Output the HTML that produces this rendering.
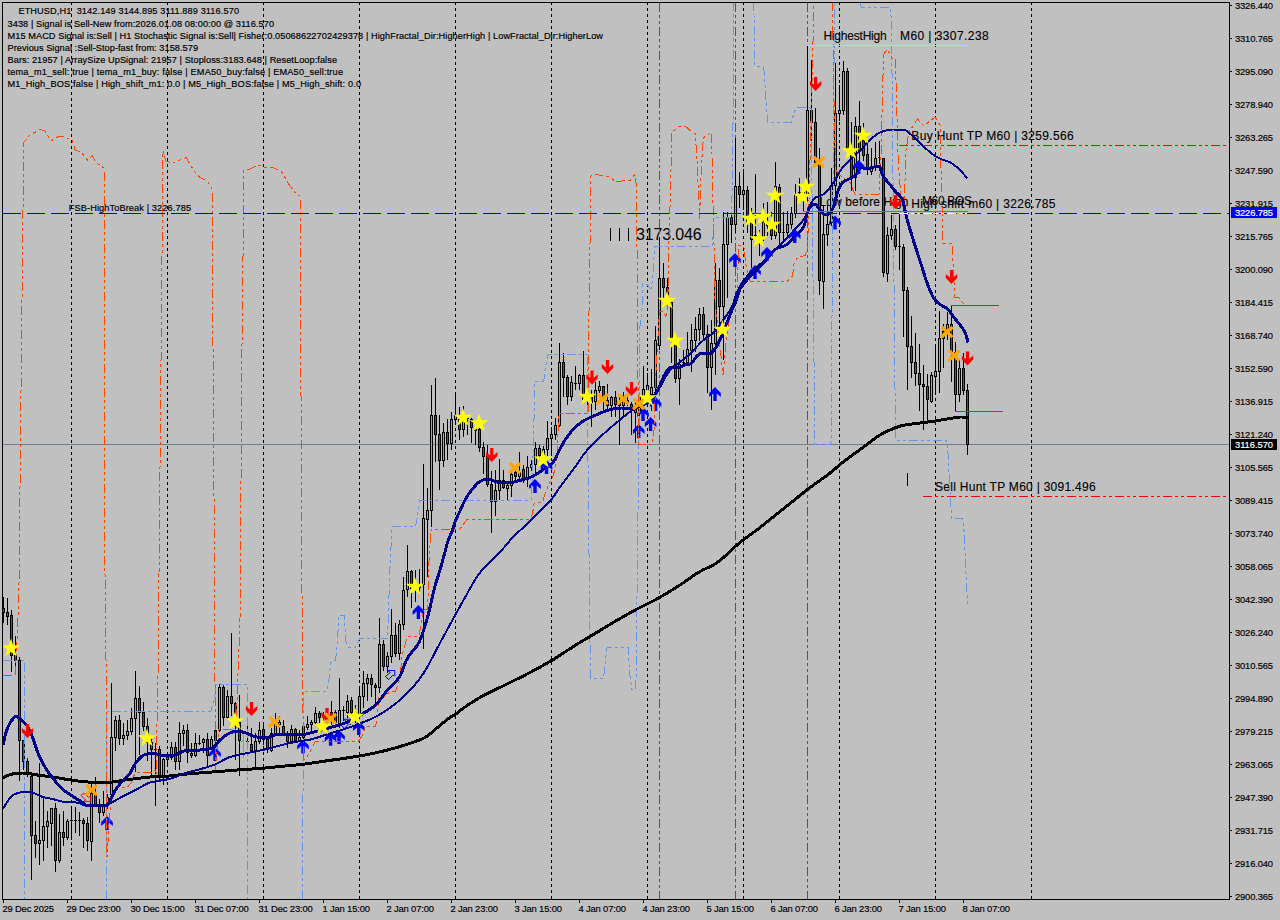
<!DOCTYPE html>
<html><head><meta charset="utf-8"><title>ETHUSD,H1</title>
<style>html,body{margin:0;padding:0;background:#c0c0c0;overflow:hidden}svg{display:block}text{font-family:"Liberation Sans",sans-serif;fill:#000}.s{font-size:9.2px;stroke:#000;stroke-width:.18px}.m{font-size:12px;stroke:#000;stroke-width:.12px}.ax{font-size:9.4px;stroke:#000;stroke-width:.18px}</style></head><body>
<svg width="1280" height="920" viewBox="0 0 1280 920">
<rect x="0" y="0" width="1280" height="920" fill="#c0c0c0"/>
<g class="s">
<text x="18.4" y="14.0" textLength="220.6" xml:space="preserve">ETHUSD,H1  3142.149 3144.895 3111.889 3116.570</text>
<text x="7.5" y="26.8" textLength="266.5" xml:space="preserve">3438 | Signal is Sell-New from:2026.01.08 08:00:00 @ 3116.570</text>
<text x="7.5" y="38.8" textLength="595.5" xml:space="preserve">M15 MACD Signal is:Sell | H1 Stochastic Signal is:Sell| Fisher:0.05068622702429378 | HighFractal_Dir:HigherHigh | LowFractal_Dir:HigherLow</text>
<text x="7.5" y="50.8" textLength="190.5" xml:space="preserve">Previous Signal :Sell-Stop-fast from: 3158.579</text>
<text x="7.5" y="62.7" textLength="329.5" xml:space="preserve">Bars: 21957 | ArraySize UpSignal: 21957 | Stoploss:3183.648 | ResetLoop:false</text>
<text x="7.5" y="74.7" textLength="335.5" xml:space="preserve">tema_m1_sell: true | tema_m1_buy: false | EMA50_buy:false | EMA50_sell:true</text>
<text x="7.5" y="86.7" textLength="353.5" xml:space="preserve">M1_High_BOS:false | High_shift_m1: 0.0 | M5_High_BOS:false | M5_High_shift: 0.0</text>
<text x="68.75" y="211" textLength="122.3">FSB-HighToBreak | 3226.785</text>
</g>
<g class="m">
<text x="823.4" y="39.6" textLength="63.3">HighestHigh</text><text x="900" y="39.6" textLength="88.7">M60 | 3307.238</text>
<text x="911.3" y="140" textLength="162.4">Buy Hunt TP M60 | 3259.566</text>
<text x="819.5" y="205.5" textLength="89">Low before High</text>
<text x="911.3" y="207.9" textLength="144.2">High shift m60 | 3226.785</text>
<text x="921.9" y="205.3" textLength="50">M60 BOS</text>
<text x="935" y="491" textLength="160.7">Sell Hunt TP M60 | 3091.496</text>
</g>
<g shape-rendering="crispEdges" stroke="#000" stroke-width="1"><path d="M610.5 228V241M619.5 228V241M628.5 228V241"/></g>
<text x="636" y="239.7" textLength="65.7" style="font-size:16px">3173.046</text>
<g shape-rendering="crispEdges" stroke="#000" stroke-width="1" stroke-dasharray="3 3" fill="none">
<line x1="71.5" y1="2" x2="71.5" y2="899"/>
<line x1="167.5" y1="2" x2="167.5" y2="899"/>
<line x1="263.5" y1="2" x2="263.5" y2="899"/>
<line x1="359.5" y1="2" x2="359.5" y2="899"/>
<line x1="455.5" y1="2" x2="455.5" y2="899"/>
<line x1="551.5" y1="2" x2="551.5" y2="899"/>
<line x1="647.5" y1="2" x2="647.5" y2="899"/>
<line x1="743.5" y1="2" x2="743.5" y2="899"/>
<line x1="839.5" y1="2" x2="839.5" y2="899"/>
<line x1="935.5" y1="2" x2="935.5" y2="899"/>
<line x1="1031.5" y1="2" x2="1031.5" y2="899"/>
</g>
<line x1="3" y1="444.5" x2="1229" y2="444.5" stroke="#708090" stroke-width="1" shape-rendering="crispEdges"/>
<g shape-rendering="crispEdges" stroke="#c71585" stroke-width="1" stroke-dasharray="9 3 3 3 3 3" fill="none">
<line x1="659.5" y1="3" x2="659.5" y2="899"/>
<line x1="735.5" y1="3" x2="735.5" y2="899"/>
<line x1="807.5" y1="3" x2="807.5" y2="899"/>
</g>
<g>
<polygon points="105.3,830 108.7,830 108.7,822.4 112.8,826 112.8,822 107,816 101.2,822 101.2,826 105.3,822.4" fill="#0000ff"/>
<polygon points="213.3,761 216.7,761 216.7,753.4 220.8,757 220.8,753 215,747 209.2,753 209.2,757 213.3,753.4" fill="#0000ff"/>
<polygon points="301.3,753.5 304.7,753.5 304.7,745.9 308.8,749.5 308.8,745.5 303,739.5 297.2,745.5 297.2,749.5 301.3,745.9" fill="#0000ff"/>
<polygon points="328.9,745.75 332.3,745.75 332.3,738.15 336.4,741.75 336.4,737.75 330.6,731.75 324.8,737.75 324.8,741.75 328.9,738.15" fill="#0000ff"/>
<polygon points="337.3,744 340.7,744 340.7,736.4 344.8,740 344.8,736 339,730 333.2,736 333.2,740 337.3,736.4" fill="#0000ff"/>
<polygon points="357.05,735 360.45,735 360.45,727.4 364.55,731 364.55,727 358.75,721 352.95,727 352.95,731 357.05,727.4" fill="#0000ff"/>
<polygon points="416.7,619 420.1,619 420.1,611.4 424.2,615 424.2,611 418.4,605 412.6,611 412.6,615 416.7,611.4" fill="#0000ff"/>
<polygon points="533.3,493 536.7,493 536.7,485.4 540.8,489 540.8,485 535,479 529.2,485 529.2,489 533.3,485.4" fill="#0000ff"/>
<polygon points="653.9,411 657.3,411 657.3,403.4 661.4,407 661.4,403 655.6,397 649.8,403 649.8,407 653.9,403.4" fill="#0000ff"/>
<polygon points="641.3,421 644.7,421 644.7,413.4 648.8,417 648.8,413 643,407 637.2,413 637.2,417 641.3,413.4" fill="#0000ff"/>
<polygon points="648.9,431 652.3,431 652.3,423.4 656.4,427 656.4,423 650.6,417 644.8,423 644.8,427 648.9,423.4" fill="#0000ff"/>
<polygon points="637.05,438 640.45,438 640.45,430.4 644.55,434 644.55,430 638.75,424 632.95,430 632.95,434 637.05,430.4" fill="#0000ff"/>
<polygon points="713.3,401 716.7,401 716.7,393.4 720.8,397 720.8,393 715,387 709.2,393 709.2,397 713.3,393.4" fill="#0000ff"/>
<polygon points="733.3,267 736.7,267 736.7,259.4 740.8,263 740.8,259 735,253 729.2,259 729.2,263 733.3,259.4" fill="#0000ff"/>
<polygon points="753.3,279 756.7,279 756.7,271.4 760.8,275 760.8,271 755,265 749.2,271 749.2,275 753.3,271.4" fill="#0000ff"/>
<polygon points="833.3,229.5 836.7,229.5 836.7,221.9 840.8,225.5 840.8,221.5 835,215.5 829.2,221.5 829.2,225.5 833.3,221.9" fill="#0000ff"/>
</g>
<g shape-rendering="crispEdges">
<path d="M3.5 597V623M7.5 598V625M11.5 610V672M15.5 636V668M19.5 657V781M23.5 740V770M27.5 758V777M31.5 773V880M35.5 821V858M39.5 763V865M43.5 797V861M47.5 811V848M51.5 808V846M55.5 803V872M59.5 814V863M63.5 811V846M67.5 819V840M71.5 806V840M75.5 807V833M79.5 812V836M83.5 818V848M87.5 817V851M91.5 782V861M95.5 777V807M99.5 799V823M103.5 791V816M107.5 794V809M111.5 683V797M115.5 716V751M119.5 715V745M123.5 723V745M127.5 720V740M131.5 708V735M135.5 671V772M139.5 686V755M143.5 702V731M147.5 718V761M151.5 738V776M155.5 743V806M159.5 746V781M163.5 758V785M167.5 753V764M171.5 742V760M175.5 742V770M179.5 722V770M183.5 725V746M187.5 724V763M191.5 743V758M195.5 733V757M199.5 735V745M203.5 738V753M207.5 733V768M211.5 736V750M215.5 729V743M219.5 684V732M223.5 685V726M227.5 690V719M231.5 633V716M235.5 702V760M239.5 695V776M247.5 721V749M251.5 728V752M255.5 733V768M259.5 722V744M263.5 722V745M267.5 737V753M271.5 728V752M275.5 713V735M279.5 716V733M283.5 720V735M287.5 731V748M291.5 725V743M295.5 728V742M299.5 730V742M303.5 723V739M307.5 716V730M311.5 720V731M315.5 707V724M319.5 711V723M323.5 712V727M327.5 708V725M331.5 701V725M335.5 710V727M339.5 678V728M343.5 706V721M347.5 695V718M351.5 697V716M355.5 705V723M359.5 689V717M363.5 671V708M367.5 674V701M371.5 674V697M375.5 683V705M379.5 618V693M383.5 640V671M387.5 652V673M391.5 609V663M395.5 623V657M399.5 620V660M403.5 577V630M407.5 545V597M411.5 570V608M415.5 570V602M419.5 569V593M423.5 464V649M427.5 488V577M431.5 385V527M435.5 378V462M439.5 415V490M443.5 423V467M447.5 419V460M451.5 412V450M455.5 392V425M459.5 407V440M463.5 406V437M467.5 418V435M471.5 418V443M475.5 427V445M479.5 428V452M483.5 442V474M487.5 445V487M491.5 471V533M495.5 470V516M499.5 459V500M503.5 470V489M507.5 484V500M511.5 470V497M515.5 470V481M519.5 452V479M523.5 465V483M527.5 456V487M531.5 460V471M535.5 442V473M539.5 445V461M543.5 446V463M547.5 421V456M551.5 427V456M555.5 418V440M559.5 343V427M563.5 353V397M567.5 375V405M571.5 376V401M575.5 366V390M579.5 374V390M583.5 351V401M587.5 393V410M591.5 390V427M595.5 382V410M599.5 381V393M603.5 386V410M607.5 384V410M611.5 396V417M615.5 391V417M619.5 395V445M623.5 392V416M627.5 396V406M631.5 402V435M635.5 400V443M639.5 393V417M643.5 366V411M647.5 373V401M651.5 369V411M655.5 326V397M659.5 237V350M663.5 263V298M667.5 278V306M671.5 302V363M675.5 335V383M679.5 359V405M683.5 350V366M687.5 332V365M691.5 324V372M695.5 317V352M699.5 308V341M703.5 307V340M707.5 325V393M711.5 320V410M715.5 263V375M719.5 268V326M723.5 212V360M727.5 212V298M731.5 212V243M735.5 138V233M739.5 172V208M743.5 169V210M747.5 186V233M751.5 208V268M755.5 174V237M759.5 230V256M763.5 203V241M767.5 202V236M771.5 212V240M775.5 162V239M779.5 184V244M783.5 212V243M787.5 211V236M791.5 207V229M795.5 184V218M799.5 178V201M803.5 190V212M807.5 45V201M811.5 60V141M815.5 108V167M819.5 148V295M823.5 205V309M827.5 205V246M831.5 168V226M835.5 63V195M839.5 85V121M843.5 61V115M847.5 68V153M851.5 122V191M855.5 117V191M859.5 101V161M863.5 123V161M867.5 144V175M871.5 148V175M875.5 142V171M879.5 141V164M883.5 158V277M887.5 227V282M891.5 215V240M895.5 225V250M899.5 214V270M903.5 244V337M907.5 287V390M911.5 316V378M915.5 333V386M919.5 344V411M923.5 365V430M927.5 374V422M931.5 372V403M935.5 344V395M939.5 311V393M943.5 324V368M947.5 312V340M951.5 305V382M955.5 342V412M959.5 360V402M963.5 353V395M967.5 384V455" stroke="#000" stroke-width="1" fill="none"/>
<path d="M2 608h3v5h-3zM6 612h3v5h-3zM10 615h3v41h-3zM14 655h3v6h-3zM18 660h3v81h-3zM22 740h3v22h-3zM26 761h3v12h-3zM30 776h3v60h-3zM34 835h3v9h-3zM38 840h3v4h-3zM42 826h3v15h-3zM46 821h3v6h-3zM50 808h3v16h-3zM54 808h3v53h-3zM58 832h3v29h-3zM62 832h3v6h-3zM66 821h3v17h-3zM82 820h3v4h-3zM86 823h3v18h-3zM90 793h3v49h-3zM94 794h3v11h-3zM98 804h3v9h-3zM102 806h3v7h-3zM106 797h3v9h-3zM110 737h3v58h-3zM114 720h3v18h-3zM118 720h3v19h-3zM122 735h3v4h-3zM126 731h3v5h-3zM130 718h3v14h-3zM134 698h3v21h-3zM138 698h3v15h-3zM142 712h3v15h-3zM146 726h3v17h-3zM150 742h3v8h-3zM158 749h3v27h-3zM162 759h3v17h-3zM166 757h3v3h-3zM170 747h3v11h-3zM174 747h3v15h-3zM178 733h3v29h-3zM182 730h3v4h-3zM186 730h3v23h-3zM190 753h3v3h-3zM194 743h3v13h-3zM202 739h3v4h-3zM206 739h3v17h-3zM210 739h3v10h-3zM214 730h3v11h-3zM218 687h3v44h-3zM222 687h3v31h-3zM226 696h3v22h-3zM230 696h3v8h-3zM234 703h3v20h-3zM238 722h3v19h-3zM250 744h3v7h-3zM254 741h3v10h-3zM258 730h3v12h-3zM262 729h3v11h-3zM266 739h3v11h-3zM270 733h3v18h-3zM274 724h3v10h-3zM278 722h3v3h-3zM282 726h3v8h-3zM286 733h3v9h-3zM290 729h3v13h-3zM294 729h3v12h-3zM298 737h3v4h-3zM302 726h3v12h-3zM306 724h3v4h-3zM310 722h3v3h-3zM314 713h3v10h-3zM318 713h3v5h-3zM322 716h3v3h-3zM326 714h3v5h-3zM330 712h3v7h-3zM334 712h3v11h-3zM338 710h3v15h-3zM346 701h3v12h-3zM350 700h3v13h-3zM354 712h3v4h-3zM358 696h3v20h-3zM362 683h3v14h-3zM366 678h3v6h-3zM370 678h3v7h-3zM374 685h3v3h-3zM378 644h3v44h-3zM382 644h3v23h-3zM386 656h3v11h-3zM390 635h3v22h-3zM394 635h3v19h-3zM398 624h3v30h-3zM402 590h3v35h-3zM406 571h3v19h-3zM410 571h3v18h-3zM418 584h3v4h-3zM422 518h3v67h-3zM426 510h3v10h-3zM430 415h3v96h-3zM434 415h3v20h-3zM438 434h3v27h-3zM442 432h3v29h-3zM446 432h3v12h-3zM450 419h3v25h-3zM454 415h3v5h-3zM458 419h3v11h-3zM462 421h3v9h-3zM470 419h3v9h-3zM474 428h3v3h-3zM478 429h3v19h-3zM482 447h3v10h-3zM486 456h3v29h-3zM490 484h3v18h-3zM494 490h3v12h-3zM498 480h3v11h-3zM502 480h3v8h-3zM506 485h3v4h-3zM510 474h3v12h-3zM514 472h3v5h-3zM518 472h3v5h-3zM522 469h3v11h-3zM526 467h3v12h-3zM530 464h3v4h-3zM534 448h3v17h-3zM538 448h3v8h-3zM542 449h3v7h-3zM546 438h3v12h-3zM550 434h3v5h-3zM554 425h3v10h-3zM558 362h3v64h-3zM562 362h3v16h-3zM566 377h3v20h-3zM570 382h3v15h-3zM578 375h3v9h-3zM582 375h3v25h-3zM586 394h3v5h-3zM590 397h3v6h-3zM594 390h3v12h-3zM598 386h3v5h-3zM602 386h3v14h-3zM606 400h3v6h-3zM610 397h3v9h-3zM614 397h3v8h-3zM618 401h3v5h-3zM622 399h3v7h-3zM626 400h3v3h-3zM630 404h3v4h-3zM634 408h3v5h-3zM638 396h3v15h-3zM642 389h3v8h-3zM646 385h3v5h-3zM650 387h3v8h-3zM654 340h3v48h-3zM658 278h3v68h-3zM662 278h3v10h-3zM666 287h3v16h-3zM670 302h3v36h-3zM674 337h3v42h-3zM678 364h3v15h-3zM686 349h3v14h-3zM690 340h3v11h-3zM694 329h3v12h-3zM698 314h3v16h-3zM702 314h3v21h-3zM706 334h3v34h-3zM710 343h3v25h-3zM714 280h3v64h-3zM718 280h3v27h-3zM722 244h3v63h-3zM726 217h3v28h-3zM730 217h3v8h-3zM734 186h3v39h-3zM738 186h3v9h-3zM742 190h3v5h-3zM746 190h3v33h-3zM750 222h3v18h-3zM758 236h3v5h-3zM762 222h3v15h-3zM766 222h3v4h-3zM770 225h3v11h-3zM774 186h3v50h-3zM778 187h3v46h-3zM786 224h3v9h-3zM790 213h3v12h-3zM794 194h3v20h-3zM802 192h3v4h-3zM806 110h3v86h-3zM810 110h3v13h-3zM814 122h3v41h-3zM818 162h3v119h-3zM822 234h3v48h-3zM826 224h3v11h-3zM830 185h3v38h-3zM834 113h3v73h-3zM838 110h3v4h-3zM842 71h3v40h-3zM846 71h3v80h-3zM850 150h3v28h-3zM854 126h3v52h-3zM858 126h3v25h-3zM862 140h3v16h-3zM866 154h3v15h-3zM870 168h3v4h-3zM874 158h3v9h-3zM882 158h3v115h-3zM886 235h3v39h-3zM890 229h3v7h-3zM894 229h3v18h-3zM902 247h3v44h-3zM906 290h3v57h-3zM910 346h3v17h-3zM914 362h3v12h-3zM918 373h3v12h-3zM922 384h3v3h-3zM926 386h3v14h-3zM930 375h3v27h-3zM934 371h3v6h-3zM938 338h3v34h-3zM942 331h3v8h-3zM946 324h3v8h-3zM950 324h3v29h-3zM954 352h3v43h-3zM958 368h3v27h-3zM962 368h3v23h-3zM966 390h3v55h-3z" fill="#000"/>
<path d="M70 820.5H73M74 820.5H77M78 820.5H81M154 749.5H157M198 743.5H201M246 741.5H249M342 710.5H345M414 586.5H417M466 418.5H469M574 383.5H577M682 362.5H685M754 235.5H757M782 232.5H785M798 192.5H801M878 157.5H881M898 246.5H901" stroke="#000" stroke-width="1" fill="none"/>
<path d="M39 841h1v2h-1zM43 827h1v13h-1zM47 822h1v4h-1zM51 809h1v14h-1zM59 833h1v27h-1zM67 822h1v15h-1zM91 794h1v47h-1zM103 807h1v5h-1zM107 798h1v7h-1zM111 738h1v56h-1zM115 721h1v16h-1zM123 736h1v2h-1zM127 732h1v3h-1zM131 719h1v12h-1zM135 699h1v19h-1zM163 760h1v15h-1zM167 758h1v1h-1zM171 748h1v9h-1zM179 734h1v27h-1zM183 731h1v2h-1zM195 744h1v11h-1zM203 740h1v2h-1zM211 740h1v8h-1zM219 688h1v42h-1zM227 697h1v20h-1zM255 742h1v8h-1zM259 731h1v10h-1zM271 734h1v16h-1zM275 725h1v8h-1zM279 723h1v1h-1zM291 730h1v11h-1zM299 738h1v2h-1zM303 727h1v10h-1zM307 725h1v2h-1zM311 723h1v1h-1zM315 714h1v8h-1zM323 717h1v1h-1zM331 713h1v5h-1zM339 711h1v13h-1zM347 702h1v10h-1zM359 697h1v18h-1zM363 684h1v12h-1zM367 679h1v4h-1zM379 645h1v42h-1zM387 657h1v9h-1zM391 636h1v20h-1zM399 625h1v28h-1zM403 591h1v33h-1zM407 572h1v17h-1zM419 585h1v2h-1zM423 519h1v65h-1zM427 511h1v8h-1zM431 416h1v94h-1zM443 433h1v27h-1zM451 420h1v23h-1zM455 416h1v3h-1zM463 422h1v7h-1zM495 491h1v10h-1zM499 481h1v9h-1zM507 486h1v2h-1zM511 475h1v10h-1zM519 473h1v3h-1zM527 468h1v10h-1zM531 465h1v2h-1zM535 449h1v15h-1zM543 450h1v5h-1zM547 439h1v10h-1zM551 435h1v3h-1zM555 426h1v8h-1zM559 363h1v62h-1zM571 383h1v13h-1zM579 376h1v7h-1zM587 395h1v3h-1zM595 391h1v10h-1zM599 387h1v3h-1zM611 398h1v7h-1zM623 400h1v5h-1zM627 401h1v1h-1zM639 397h1v13h-1zM643 390h1v6h-1zM647 386h1v3h-1zM651 388h1v6h-1zM655 341h1v46h-1zM659 279h1v66h-1zM679 365h1v13h-1zM687 350h1v12h-1zM691 341h1v9h-1zM695 330h1v10h-1zM699 315h1v14h-1zM711 344h1v23h-1zM715 281h1v62h-1zM723 245h1v61h-1zM727 218h1v26h-1zM735 187h1v37h-1zM743 191h1v3h-1zM763 223h1v13h-1zM775 187h1v48h-1zM787 225h1v7h-1zM791 214h1v10h-1zM795 195h1v18h-1zM803 193h1v2h-1zM807 111h1v84h-1zM823 235h1v46h-1zM827 225h1v9h-1zM831 186h1v36h-1zM835 114h1v71h-1zM839 111h1v2h-1zM843 72h1v38h-1zM855 127h1v50h-1zM871 169h1v2h-1zM875 159h1v7h-1zM887 236h1v37h-1zM891 230h1v5h-1zM931 376h1v25h-1zM935 372h1v4h-1zM939 339h1v32h-1zM947 325h1v6h-1zM959 369h1v25h-1z" fill="#00ff7f"/>
<path d="M3 609h1v3h-1zM7 613h1v3h-1zM11 616h1v39h-1zM15 656h1v4h-1zM19 661h1v79h-1zM23 741h1v20h-1zM27 762h1v10h-1zM31 777h1v58h-1zM35 836h1v7h-1zM55 809h1v51h-1zM63 833h1v4h-1zM83 821h1v2h-1zM87 824h1v16h-1zM95 795h1v9h-1zM99 805h1v7h-1zM119 721h1v17h-1zM139 699h1v13h-1zM143 713h1v13h-1zM147 727h1v15h-1zM151 743h1v6h-1zM159 750h1v25h-1zM175 748h1v13h-1zM187 731h1v21h-1zM191 754h1v1h-1zM207 740h1v15h-1zM215 731h1v9h-1zM223 688h1v29h-1zM231 697h1v6h-1zM235 704h1v18h-1zM239 723h1v17h-1zM251 745h1v5h-1zM263 730h1v9h-1zM267 740h1v9h-1zM283 727h1v6h-1zM287 734h1v7h-1zM295 730h1v10h-1zM319 714h1v3h-1zM327 715h1v3h-1zM335 713h1v9h-1zM351 701h1v11h-1zM355 713h1v2h-1zM371 679h1v5h-1zM375 686h1v1h-1zM383 645h1v21h-1zM395 636h1v17h-1zM411 572h1v16h-1zM435 416h1v18h-1zM439 435h1v25h-1zM447 433h1v10h-1zM459 420h1v9h-1zM471 420h1v7h-1zM475 429h1v1h-1zM479 430h1v17h-1zM483 448h1v8h-1zM487 457h1v27h-1zM491 485h1v16h-1zM503 481h1v6h-1zM515 473h1v3h-1zM523 470h1v9h-1zM539 449h1v6h-1zM563 363h1v14h-1zM567 378h1v18h-1zM583 376h1v23h-1zM591 398h1v4h-1zM603 387h1v12h-1zM607 401h1v4h-1zM615 398h1v6h-1zM619 402h1v3h-1zM631 405h1v2h-1zM635 409h1v3h-1zM663 279h1v8h-1zM667 288h1v14h-1zM671 303h1v34h-1zM675 338h1v40h-1zM703 315h1v19h-1zM707 335h1v32h-1zM719 281h1v25h-1zM731 218h1v6h-1zM739 187h1v7h-1zM747 191h1v31h-1zM751 223h1v16h-1zM759 237h1v3h-1zM767 223h1v2h-1zM771 226h1v9h-1zM779 188h1v44h-1zM811 111h1v11h-1zM815 123h1v39h-1zM819 163h1v117h-1zM847 72h1v78h-1zM851 151h1v26h-1zM859 127h1v23h-1zM863 141h1v14h-1zM867 155h1v13h-1zM883 159h1v113h-1zM895 230h1v16h-1zM903 248h1v42h-1zM907 291h1v55h-1zM911 347h1v15h-1zM915 363h1v10h-1zM919 374h1v10h-1zM923 385h1v1h-1zM927 387h1v12h-1zM943 332h1v6h-1zM951 325h1v27h-1zM955 353h1v41h-1zM963 369h1v21h-1zM967 391h1v53h-1z" fill="#dc143c"/>
<path d="M243.5 734V758" stroke="#00ff00" stroke-width="1" fill="none"/>
<path d="M241 741.5H244" stroke="#00ff00" stroke-width="1" fill="none"/>
</g>
<g shape-rendering="crispEdges" fill="none" stroke="#6495ed" stroke-width="1" stroke-dasharray="9 3 3 3 3 3">
<polyline points="3,660 24,660 24,899"/>
<polyline points="106.5,899 107,712 211,711.5 215,695 215,684.4 247.5,684.4 247.5,899"/>
<polyline points="302.5,899 303.5,691 327,691 329,679 330.6,663 335.6,660 337.5,640 339,615 344,615 346,642 349,647.5 355,647.5 359,640 360,638.5 387.5,638.5 390,567 392,527 415.6,526.5 417,519 419.4,500.5 531,500.5 532.5,476 535,381 543.75,381 545,370 547.5,356 549,354 587.5,354 587.5,420 590.4,678 603.5,678 607,648 628,647 629.5,673 632,689.5 635.6,689.5 636,680 638.75,450 640,326 642.5,305 643,284 647.5,285 651,289 652.5,280 653.75,261 655,246 712.5,246 713.75,217.5 731,217.5 732.5,186 734,2"/>
<polyline points="753.75,2 755,66 763.75,67.5 767.5,122.5 791,122.5 796,107.5 810,107.5 811,110 815,444 831,444 834.5,2"/>
<polyline points="860,2 861,7 890,7.5 891.5,20 895.5,440 946,440 947.5,445 951,510 951,518 962.5,518 963.75,525 967.5,605"/>
</g>
<g shape-rendering="crispEdges" fill="none" stroke="#ff4500" stroke-width="1" stroke-dasharray="9 3 3 3 3 3">
<polyline points="3,675 12,675"/>
<polyline points="15.5,675 16,655 17.5,632 19,585 21.5,345 23.75,142.5 30,135 40,129.5 45,131 51,141 59,136 65,137 72.5,141 75,150 81,152 87.5,160 92.5,156 96,162.5 104,168 105,575 106.5,700 107,857 108.5,835 109.5,815 111,805 115,787.5 127,787.5 131,783 135,773 153,772.5 155,770 156,775 158,675 159,575 163,151 166,161 172.5,163 186,157.5 194,171 200,177.5 207.5,181 212,189 214.5,575 215.4,771 219,729 236,729 240,620 242,345 244,170 250,169 257.5,165 264,167 272.5,167 282.5,172.5 287.5,182.5 295,192.5 300,196 302.5,691 304,760 309,754 315.6,741 358.75,741 362,736 366,726.5 375.6,726.5 377.5,715 379,697 386,696 390,691 395.6,691 400,679 402,656 405.6,642.5 407.5,637 418.75,636 422.5,617.5 423.75,610 427.5,609.4 428,597.5 429,561 431,531 431,529 460,529 467.5,519 530.6,519 532.5,514 534,504 542.5,502 545.6,492.5 548.75,484 552,479 555.6,467.5 557,454 558.75,415 560,413.5 588.5,413.5 588.5,345 591,176 595,174 602.5,176 610,177 616,182 622.5,181 630,180.5 634.5,175 636.5,185 638.5,444 652.5,444 653,437.5 654,430 656,371 659.5,311 664,312 666,318 668,305 668.75,242 669.4,230 672,132.5 678.75,126.5 685.6,126.5 692,132 695.6,133.75 696,145 697.5,165 698,185 699.4,207.5 699.75,219 700,207.5 701,175 702.5,147.5 703.75,137.5 711,132.5 712,154 713,202.5 713.75,230 715,300 723,375 726,342 730,316 736,300 737,289 739,245 743.75,246 746,265 749,277.5 750,281 787.5,281 792.5,276 794,264 797.5,257.5 805,255.6 807.5,250 809,200 814,2"/>
<polyline points="832.5,2 833.5,77 835.5,170 840,175 842.5,177.5 850,182.5 855,194 879,194 881,155 883.5,55 887,49 892,58 895,58.75 895.6,65 898,155 901,200 904,210 906,150 908.75,132.5 917.5,119 923.75,126 928,122.5 935,117 940,125 940.6,153 943,243 952,243 952.5,253 955,297.5 958.75,298 963.75,304 966,304"/>
</g>
<g fill="none" stroke-width="1">
<polygon points="387.5,670.5 394.8,670.5 394.8,675.8 392.6,675.3 388.7,679.6 385.4,676.6 390.3,672.4" stroke="#0000ff"/>
<polygon points="343.35,719.25 350.65,719.25 350.65,724.55 348.45,724.05 344.55,728.35 341.25,725.35 346.15,721.15" stroke="#0000ff"/>
<polygon points="83.9,801.4 90.8,801.4 90.8,796 88.3,797.3 83.8,793.1 81,795.4 85.7,800.1" stroke="#ff0000"/>
</g>
<g shape-rendering="crispEdges" fill="none" stroke-linejoin="round" stroke-linecap="butt">
<polyline points="2.5,778 3.5,777.46 4.5,776.93 5.5,776.43 6.5,775.95 7.5,775.51 8.5,775.11 9.5,774.75 10.5,774.44 11.5,774.19 12.5,774 13.5,773.84 14.5,773.69 15.5,773.55 16.5,773.42 17.5,773.3 18.5,773.2 19.5,773.12 20.5,773.05 21.5,773.01 22.5,773 23.5,773.02 24.5,773.07 25.5,773.14 26.5,773.25 27.5,773.37 28.5,773.51 29.5,773.67 30.5,773.83 31.5,774.01 32.5,774.19 33.5,774.36 34.5,774.54 35.5,774.7 36.5,774.86 37.5,775 38.5,775.13 39.5,775.26 40.5,775.39 41.5,775.52 42.5,775.65 43.5,775.78 44.5,775.91 45.5,776.04 46.5,776.17 47.5,776.31 48.5,776.44 49.5,776.58 50.5,776.71 51.5,776.86 52.5,777 53.5,777.15 54.5,777.3 55.5,777.46 56.5,777.62 57.5,777.79 58.5,777.96 59.5,778.13 60.5,778.3 61.5,778.47 62.5,778.65 63.5,778.82 64.5,778.99 65.5,779.15 66.5,779.32 67.5,779.48 68.5,779.63 69.5,779.79 70.5,779.93 71.5,780.07 72.5,780.21 73.5,780.35 74.5,780.5 75.5,780.64 76.5,780.78 77.5,780.93 78.5,781.06 79.5,781.2 80.5,781.33 81.5,781.45 82.5,781.56 83.5,781.67 84.5,781.77 85.5,781.86 86.5,781.93 87.5,782 88.5,782.06 89.5,782.12 90.5,782.17 91.5,782.23 92.5,782.28 93.5,782.33 94.5,782.37 95.5,782.41 96.5,782.45 97.5,782.47 98.5,782.49 99.5,782.5 100.5,782.5 101.5,782.49 102.5,782.47 103.5,782.45 104.5,782.42 105.5,782.38 106.5,782.34 107.5,782.29 108.5,782.24 109.5,782.18 110.5,782.12 111.5,782.06 112.5,782 113.5,781.92 114.5,781.81 115.5,781.67 116.5,781.52 117.5,781.35 118.5,781.16 119.5,780.97 120.5,780.78 121.5,780.59 122.5,780.4 123.5,780.23 124.5,780.07 125.5,779.93 126.5,779.8 127.5,779.67 128.5,779.55 129.5,779.43 130.5,779.31 131.5,779.19 132.5,779.08 133.5,778.97 134.5,778.85 135.5,778.74 136.5,778.62 137.5,778.5 138.5,778.38 139.5,778.25 140.5,778.11 141.5,777.98 142.5,777.84 143.5,777.7 144.5,777.57 145.5,777.45 146.5,777.33 147.5,777.22 148.5,777.12 149.5,777.04 150.5,776.97 151.5,776.9 152.5,776.85 153.5,776.8 154.5,776.75 155.5,776.71 156.5,776.66 157.5,776.62 158.5,776.57 159.5,776.53 160.5,776.47 161.5,776.42 162.5,776.37 163.5,776.32 164.5,776.27 165.5,776.22 166.5,776.16 167.5,776.1 168.5,776.03 169.5,775.96 170.5,775.88 171.5,775.8 172.5,775.7 173.5,775.6 174.5,775.49 175.5,775.38 176.5,775.26 177.5,775.14 178.5,775.02 179.5,774.9 180.5,774.78 181.5,774.66 182.5,774.54 183.5,774.42 184.5,774.31 185.5,774.2 186.5,774.1 187.5,774 188.5,773.91 189.5,773.82 190.5,773.73 191.5,773.64 192.5,773.56 193.5,773.48 194.5,773.39 195.5,773.31 196.5,773.23 197.5,773.15 198.5,773.08 199.5,773 200.5,772.92 201.5,772.85 202.5,772.77 203.5,772.69 204.5,772.62 205.5,772.54 206.5,772.47 207.5,772.39 208.5,772.31 209.5,772.24 210.5,772.16 211.5,772.08 212.5,772 213.5,771.92 214.5,771.84 215.5,771.76 216.5,771.68 217.5,771.6 218.5,771.52 219.5,771.43 220.5,771.35 221.5,771.27 222.5,771.19 223.5,771.11 224.5,771.03 225.5,770.95 226.5,770.87 227.5,770.78 228.5,770.7 229.5,770.62 230.5,770.54 231.5,770.47 232.5,770.39 233.5,770.31 234.5,770.23 235.5,770.15 236.5,770.08 237.5,770 238.5,769.92 239.5,769.85 240.5,769.78 241.5,769.71 242.5,769.64 243.5,769.57 244.5,769.5 245.5,769.43 246.5,769.36 247.5,769.29 248.5,769.22 249.5,769.15 250.5,769.09 251.5,769.02 252.5,768.95 253.5,768.88 254.5,768.81 255.5,768.74 256.5,768.66 257.5,768.59 258.5,768.51 259.5,768.44 260.5,768.36 261.5,768.28 262.5,768.2 263.5,768.12 264.5,768.03 265.5,767.94 266.5,767.85 267.5,767.76 268.5,767.67 269.5,767.58 270.5,767.48 271.5,767.39 272.5,767.29 273.5,767.19 274.5,767.09 275.5,766.99 276.5,766.89 277.5,766.79 278.5,766.69 279.5,766.59 280.5,766.49 281.5,766.39 282.5,766.29 283.5,766.19 284.5,766.09 285.5,765.99 286.5,765.9 287.5,765.8 288.5,765.71 289.5,765.61 290.5,765.52 291.5,765.43 292.5,765.34 293.5,765.25 294.5,765.15 295.5,765.06 296.5,764.96 297.5,764.86 298.5,764.76 299.5,764.66 300.5,764.54 301.5,764.43 302.5,764.31 303.5,764.19 304.5,764.06 305.5,763.94 306.5,763.81 307.5,763.67 308.5,763.54 309.5,763.4 310.5,763.26 311.5,763.12 312.5,762.98 313.5,762.83 314.5,762.69 315.5,762.54 316.5,762.39 317.5,762.24 318.5,762.09 319.5,761.94 320.5,761.79 321.5,761.64 322.5,761.48 323.5,761.33 324.5,761.18 325.5,761.03 326.5,760.88 327.5,760.73 328.5,760.58 329.5,760.43 330.5,760.29 331.5,760.14 332.5,760 333.5,759.86 334.5,759.72 335.5,759.58 336.5,759.44 337.5,759.3 338.5,759.16 339.5,759.03 340.5,758.89 341.5,758.75 342.5,758.61 343.5,758.47 344.5,758.32 345.5,758.18 346.5,758.03 347.5,757.88 348.5,757.73 349.5,757.58 350.5,757.42 351.5,757.26 352.5,757.1 353.5,756.94 354.5,756.78 355.5,756.62 356.5,756.45 357.5,756.28 358.5,756.11 359.5,755.94 360.5,755.77 361.5,755.59 362.5,755.41 363.5,755.23 364.5,755.05 365.5,754.87 366.5,754.68 367.5,754.49 368.5,754.29 369.5,754.1 370.5,753.9 371.5,753.7 372.5,753.49 373.5,753.28 374.5,753.07 375.5,752.85 376.5,752.63 377.5,752.4 378.5,752.18 379.5,751.95 380.5,751.71 381.5,751.48 382.5,751.24 383.5,750.99 384.5,750.75 385.5,750.5 386.5,750.25 387.5,750 388.5,749.74 389.5,749.48 390.5,749.22 391.5,748.95 392.5,748.67 393.5,748.39 394.5,748.11 395.5,747.82 396.5,747.53 397.5,747.24 398.5,746.95 399.5,746.65 400.5,746.35 401.5,746.05 402.5,745.75 403.5,745.44 404.5,745.14 405.5,744.82 406.5,744.51 407.5,744.19 408.5,743.86 409.5,743.53 410.5,743.2 411.5,742.85 412.5,742.5 413.5,742.15 414.5,741.8 415.5,741.45 416.5,741.1 417.5,740.74 418.5,740.37 419.5,739.99 420.5,739.59 421.5,739.17 422.5,738.73 423.5,738.26 424.5,737.76 425.5,737.22 426.5,736.61 427.5,735.93 428.5,735.18 429.5,734.39 430.5,733.56 431.5,732.7 432.5,731.82 433.5,730.93 434.5,730.05 435.5,729.17 436.5,728.32 437.5,727.5 438.5,726.69 439.5,725.87 440.5,725.03 441.5,724.19 442.5,723.35 443.5,722.51 444.5,721.68 445.5,720.86 446.5,720.07 447.5,719.3 448.5,718.55 449.5,717.84 450.5,717.17 451.5,716.57 452.5,716 453.5,715.43 454.5,714.82 455.5,714.16 456.5,713.43 457.5,712.66 458.5,711.86 459.5,711.06 460.5,710.26 461.5,709.48 462.5,708.75 463.5,708.05 464.5,707.35 465.5,706.66 466.5,705.97 467.5,705.29 468.5,704.62 469.5,703.96 470.5,703.3 471.5,702.66 472.5,702.02 473.5,701.38 474.5,700.76 475.5,700.15 476.5,699.54 477.5,698.95 478.5,698.36 479.5,697.78 480.5,697.22 481.5,696.66 482.5,696.12 483.5,695.58 484.5,695.05 485.5,694.53 486.5,694.01 487.5,693.5 488.5,693 489.5,692.51 490.5,692.01 491.5,691.53 492.5,691.04 493.5,690.56 494.5,690.08 495.5,689.6 496.5,689.12 497.5,688.64 498.5,688.17 499.5,687.69 500.5,687.21 501.5,686.72 502.5,686.24 503.5,685.74 504.5,685.25 505.5,684.75 506.5,684.25 507.5,683.76 508.5,683.26 509.5,682.77 510.5,682.28 511.5,681.78 512.5,681.29 513.5,680.8 514.5,680.31 515.5,679.82 516.5,679.33 517.5,678.83 518.5,678.34 519.5,677.84 520.5,677.35 521.5,676.85 522.5,676.35 523.5,675.85 524.5,675.34 525.5,674.83 526.5,674.32 527.5,673.8 528.5,673.29 529.5,672.76 530.5,672.24 531.5,671.71 532.5,671.18 533.5,670.65 534.5,670.11 535.5,669.58 536.5,669.04 537.5,668.5 538.5,667.95 539.5,667.41 540.5,666.86 541.5,666.31 542.5,665.75 543.5,665.2 544.5,664.63 545.5,664.07 546.5,663.5 547.5,662.93 548.5,662.35 549.5,661.77 550.5,661.18 551.5,660.59 552.5,660 553.5,659.4 554.5,658.79 555.5,658.17 556.5,657.54 557.5,656.9 558.5,656.26 559.5,655.61 560.5,654.96 561.5,654.3 562.5,653.64 563.5,652.98 564.5,652.32 565.5,651.66 566.5,650.99 567.5,650.33 568.5,649.67 569.5,649.02 570.5,648.37 571.5,647.72 572.5,647.08 573.5,646.44 574.5,645.81 575.5,645.19 576.5,644.57 577.5,643.96 578.5,643.35 579.5,642.75 580.5,642.15 581.5,641.55 582.5,640.95 583.5,640.35 584.5,639.76 585.5,639.17 586.5,638.57 587.5,637.98 588.5,637.39 589.5,636.79 590.5,636.2 591.5,635.6 592.5,635 593.5,634.4 594.5,633.8 595.5,633.19 596.5,632.59 597.5,631.98 598.5,631.38 599.5,630.77 600.5,630.17 601.5,629.56 602.5,628.95 603.5,628.35 604.5,627.74 605.5,627.13 606.5,626.53 607.5,625.93 608.5,625.33 609.5,624.73 610.5,624.13 611.5,623.53 612.5,622.94 613.5,622.34 614.5,621.75 615.5,621.17 616.5,620.58 617.5,620 618.5,619.42 619.5,618.84 620.5,618.26 621.5,617.68 622.5,617.11 623.5,616.53 624.5,615.96 625.5,615.38 626.5,614.81 627.5,614.25 628.5,613.68 629.5,613.12 630.5,612.56 631.5,612 632.5,611.45 633.5,610.9 634.5,610.36 635.5,609.82 636.5,609.28 637.5,608.75 638.5,608.23 639.5,607.71 640.5,607.21 641.5,606.71 642.5,606.22 643.5,605.73 644.5,605.25 645.5,604.77 646.5,604.28 647.5,603.8 648.5,603.32 649.5,602.83 650.5,602.33 651.5,601.83 652.5,601.32 653.5,600.8 654.5,600.27 655.5,599.73 656.5,599.18 657.5,598.62 658.5,598.06 659.5,597.5 660.5,596.93 661.5,596.35 662.5,595.77 663.5,595.18 664.5,594.59 665.5,594 666.5,593.4 667.5,592.79 668.5,592.19 669.5,591.58 670.5,590.96 671.5,590.35 672.5,589.73 673.5,589.1 674.5,588.48 675.5,587.85 676.5,587.22 677.5,586.59 678.5,585.95 679.5,585.32 680.5,584.68 681.5,584.03 682.5,583.36 683.5,582.68 684.5,581.98 685.5,581.28 686.5,580.58 687.5,579.87 688.5,579.15 689.5,578.44 690.5,577.73 691.5,577.02 692.5,576.32 693.5,575.63 694.5,574.95 695.5,574.28 696.5,573.63 697.5,573 698.5,572.38 699.5,571.79 700.5,571.22 701.5,570.68 702.5,570.17 703.5,569.68 704.5,569.21 705.5,568.75 706.5,568.29 707.5,567.84 708.5,567.39 709.5,566.92 710.5,566.45 711.5,565.95 712.5,565.43 713.5,564.88 714.5,564.3 715.5,563.69 716.5,563.02 717.5,562.32 718.5,561.59 719.5,560.82 720.5,560.02 721.5,559.19 722.5,558.34 723.5,557.47 724.5,556.58 725.5,555.67 726.5,554.75 727.5,553.81 728.5,552.88 729.5,551.93 730.5,550.99 731.5,550.05 732.5,549.11 733.5,548.18 734.5,547.25 735.5,546.35 736.5,545.45 737.5,544.58 738.5,543.73 739.5,542.9 740.5,542.1 741.5,541.31 742.5,540.54 743.5,539.77 744.5,539.01 745.5,538.26 746.5,537.52 747.5,536.78 748.5,536.04 749.5,535.31 750.5,534.58 751.5,533.85 752.5,533.12 753.5,532.38 754.5,531.65 755.5,530.91 756.5,530.16 757.5,529.41 758.5,528.65 759.5,527.89 760.5,527.11 761.5,526.33 762.5,525.54 763.5,524.74 764.5,523.94 765.5,523.14 766.5,522.34 767.5,521.53 768.5,520.72 769.5,519.91 770.5,519.11 771.5,518.3 772.5,517.5 773.5,516.7 774.5,515.9 775.5,515.1 776.5,514.3 777.5,513.5 778.5,512.7 779.5,511.9 780.5,511.1 781.5,510.3 782.5,509.5 783.5,508.7 784.5,507.9 785.5,507.1 786.5,506.3 787.5,505.5 788.5,504.7 789.5,503.9 790.5,503.1 791.5,502.3 792.5,501.49 793.5,500.68 794.5,499.87 795.5,499.06 796.5,498.25 797.5,497.44 798.5,496.63 799.5,495.82 800.5,495.02 801.5,494.21 802.5,493.41 803.5,492.62 804.5,491.83 805.5,491.05 806.5,490.27 807.5,489.5 808.5,488.74 809.5,487.99 810.5,487.24 811.5,486.51 812.5,485.78 813.5,485.06 814.5,484.34 815.5,483.62 816.5,482.91 817.5,482.2 818.5,481.49 819.5,480.78 820.5,480.06 821.5,479.35 822.5,478.63 823.5,477.9 824.5,477.17 825.5,476.43 826.5,475.69 827.5,474.93 828.5,474.17 829.5,473.39 830.5,472.6 831.5,471.79 832.5,470.96 833.5,470.12 834.5,469.26 835.5,468.4 836.5,467.53 837.5,466.67 838.5,465.81 839.5,464.96 840.5,464.12 841.5,463.3 842.5,462.5 843.5,461.72 844.5,460.94 845.5,460.18 846.5,459.42 847.5,458.67 848.5,457.92 849.5,457.18 850.5,456.45 851.5,455.72 852.5,455 853.5,454.28 854.5,453.56 855.5,452.84 856.5,452.12 857.5,451.41 858.5,450.69 859.5,449.98 860.5,449.26 861.5,448.54 862.5,447.82 863.5,447.09 864.5,446.37 865.5,445.63 866.5,444.88 867.5,444.12 868.5,443.34 869.5,442.56 870.5,441.78 871.5,441 872.5,440.23 873.5,439.46 874.5,438.71 875.5,437.98 876.5,437.27 877.5,436.58 878.5,435.92 879.5,435.3 880.5,434.71 881.5,434.14 882.5,433.59 883.5,433.06 884.5,432.54 885.5,432.05 886.5,431.56 887.5,431.1 888.5,430.65 889.5,430.21 890.5,429.79 891.5,429.37 892.5,428.94 893.5,428.52 894.5,428.11 895.5,427.71 896.5,427.32 897.5,426.96 898.5,426.61 899.5,426.29 900.5,425.99 901.5,425.73 902.5,425.5 903.5,425.3 904.5,425.11 905.5,424.93 906.5,424.77 907.5,424.61 908.5,424.46 909.5,424.32 910.5,424.19 911.5,424.06 912.5,423.94 913.5,423.81 914.5,423.69 915.5,423.57 916.5,423.45 917.5,423.33 918.5,423.2 919.5,423.07 920.5,422.93 921.5,422.8 922.5,422.66 923.5,422.53 924.5,422.4 925.5,422.28 926.5,422.15 927.5,422.02 928.5,421.89 929.5,421.76 930.5,421.63 931.5,421.49 932.5,421.36 933.5,421.22 934.5,421.07 935.5,420.93 936.5,420.77 937.5,420.61 938.5,420.45 939.5,420.28 940.5,420.11 941.5,419.94 942.5,419.77 943.5,419.59 944.5,419.42 945.5,419.25 946.5,419.08 947.5,418.91 948.5,418.74 949.5,418.58 950.5,418.42 951.5,418.24 952.5,418.04 953.5,417.84 954.5,417.65 955.5,417.46 956.5,417.3 957.5,417.16 958.5,417.06 959.5,417.01 960.5,417 961.5,417 962.5,417 963.5,417 964.5,417 965.5,417 966.5,417 967.5,417 968,417" stroke="#000" stroke-width="3"/>
<polyline points="3,809 4,807.2 5,805.48 6,803.83 7,802.28 8,800.82 9,799.46 10,798.23 11,797.12 12,796.14 13,795.31 14,794.63 15,794.12 16,793.74 17,793.38 18,793.06 19,792.77 20,792.53 21,792.35 22,792.23 23,792.2 24,792.2 25,792.2 26,792.2 27,792.2 28,792.2 29,792.2 30,792.2 31,792.22 32,792.36 33,792.63 34,792.99 35,793.43 36,793.92 37,794.44 38,794.97 39,795.48 40,795.96 41,796.37 42,796.7 43,796.97 44,797.22 45,797.45 46,797.67 47,797.87 48,798.07 49,798.27 50,798.47 51,798.67 52,798.88 53,799.11 54,799.35 55,799.62 56,799.92 57,800.22 58,800.53 59,800.83 60,801.11 61,801.36 62,801.57 63,801.73 64,801.84 65,801.91 66,801.98 67,802.03 68,802.07 69,802.11 70,802.15 71,802.18 72,802.22 73,802.27 74,802.32 75,802.39 76,802.47 77,802.6 78,802.84 79,803.18 80,803.57 81,804 82,804.43 83,804.83 84,805.18 85,805.44 86,805.58 87,805.6 88,805.6 89,805.6 90,805.6 91,805.6 92,805.6 93,805.6 94,805.6 95,805.6 96,805.6 97,805.6 98,805.6 99,805.6 100,805.6 101,805.6 102,805.6 103,805.6 104,805.6 105,805.6 106,805.46 107,805.09 108,804.57 109,803.97 110,803.37 111,802.85 112,802.34 113,801.8 114,801.25 115,800.69 116,800.12 117,799.54 118,798.96 119,798.39 120,797.83 121,797.28 122,796.75 123,796.24 124,795.74 125,795.24 126,794.76 127,794.27 128,793.79 129,793.3 130,792.8 131,792.3 132,791.8 133,791.29 134,790.78 135,790.28 136,789.77 137,789.26 138,788.74 139,788.19 140,787.61 141,787.02 142,786.42 143,785.82 144,785.23 145,784.67 146,784.13 147,783.64 148,783.19 149,782.81 150,782.5 151,782.24 152,782.01 153,781.8 154,781.61 155,781.44 156,781.27 157,781.11 158,780.95 159,780.78 160,780.6 161,780.42 162,780.25 163,780.09 164,779.93 165,779.77 166,779.6 167,779.41 168,779.22 169,779 170,778.76 171,778.49 172,778.19 173,777.87 174,777.53 175,777.17 176,776.8 177,776.42 178,776.03 179,775.63 180,775.24 181,774.84 182,774.45 183,774.07 184,773.69 185,773.33 186,772.98 187,772.66 188,772.35 189,772.05 190,771.77 191,771.49 192,771.22 193,770.96 194,770.7 195,770.45 196,770.2 197,769.94 198,769.69 199,769.44 200,769.18 201,768.92 202,768.65 203,768.38 204,768.1 205,767.8 206,767.5 207,767.19 208,766.87 209,766.55 210,766.21 211,765.87 212,765.52 213,765.16 214,764.79 215,764.4 216,764 217,763.57 218,763.09 219,762.58 220,762.04 221,761.49 222,760.92 223,760.35 224,759.79 225,759.24 226,758.71 227,758.22 228,757.76 229,757.35 230,757 231,756.69 232,756.4 233,756.13 234,755.87 235,755.63 236,755.4 237,755.17 238,754.96 239,754.75 240,754.53 241,754.32 242,754.11 243,753.89 244,753.68 245,753.47 246,753.27 247,753.07 248,752.87 249,752.68 250,752.49 251,752.3 252,752.11 253,751.92 254,751.73 255,751.54 256,751.35 257,751.16 258,750.96 259,750.75 260,750.55 261,750.33 262,750.11 263,749.89 264,749.65 265,749.41 266,749.15 267,748.9 268,748.64 269,748.37 270,748.11 271,747.84 272,747.58 273,747.31 274,747.05 275,746.8 276,746.55 277,746.29 278,746.03 279,745.78 280,745.52 281,745.27 282,745.01 283,744.76 284,744.52 285,744.28 286,744.04 287,743.81 288,743.59 289,743.37 290,743.16 291,742.94 292,742.74 293,742.53 294,742.33 295,742.13 296,741.94 297,741.75 298,741.56 299,741.38 300,741.2 301,741.03 302,740.87 303,740.72 304,740.58 305,740.44 306,740.29 307,740.14 308,739.97 309,739.8 310,739.6 311,739.38 312,739.14 313,738.87 314,738.59 315,738.29 316,737.98 317,737.66 318,737.33 319,736.99 320,736.65 321,736.31 322,735.97 323,735.64 324,735.32 325,735 326,734.69 327,734.39 328,734.08 329,733.78 330,733.48 331,733.18 332,732.89 333,732.59 334,732.29 335,731.99 336,731.69 337,731.39 338,731.09 339,730.78 340,730.48 341,730.17 342,729.85 343,729.54 344,729.22 345,728.9 346,728.57 347,728.23 348,727.89 349,727.55 350,727.2 351,726.85 352,726.49 353,726.13 354,725.77 355,725.41 356,725.05 357,724.68 358,724.31 359,723.93 360,723.55 361,723.16 362,722.77 363,722.38 364,721.97 365,721.56 366,721.14 367,720.72 368,720.29 369,719.85 370,719.4 371,718.94 372,718.47 373,717.99 374,717.5 375,717 376,716.49 377,715.96 378,715.41 379,714.85 380,714.27 381,713.68 382,713.07 383,712.45 384,711.82 385,711.17 386,710.51 387,709.83 388,709.14 389,708.44 390,707.73 391,707.01 392,706.27 393,705.52 394,704.77 395,704 396,703.22 397,702.42 398,701.59 399,700.75 400,699.89 401,699.01 402,698.11 403,697.19 404,696.25 405,695.29 406,694.32 407,693.32 408,692.3 409,691.27 410,690.22 411,689.14 412,688.05 413,686.94 414,685.8 415,684.63 416,683.42 417,682.19 418,680.91 419,679.61 420,678.27 421,676.89 422,675.47 423,674.02 424,672.53 425,671 426,669.4 427,667.69 428,665.91 429,664.06 430,662.16 431,660.23 432,658.28 433,656.33 434,654.4 435,652.5 436,650.61 437,648.7 438,646.79 439,644.89 440,643 441,641.13 442,639.27 443,637.41 444,635.56 445,633.71 446,631.87 447,630.04 448,628.21 449,626.38 450,624.55 451,622.73 452,620.91 453,619.09 454,617.27 455,615.45 456,613.64 457,611.82 458,610.01 459,608.2 460,606.4 461,604.61 462,602.82 463,601.04 464,599.26 465,597.5 466,595.73 467,593.93 468,592.13 469,590.31 470,588.51 471,586.72 472,584.94 473,583.21 474,581.51 475,579.86 476,578.26 477,576.74 478,575.28 479,573.89 480,572.57 481,571.3 482,570.09 483,568.93 484,567.81 485,566.73 486,565.68 487,564.66 488,563.67 489,562.69 490,561.73 491,560.78 492,559.84 493,558.9 494,557.95 495,557 496,556.04 497,555.06 498,554.07 499,553.05 500,552 501,550.92 502,549.81 503,548.67 504,547.51 505,546.33 506,545.15 507,543.96 508,542.78 509,541.6 510,540.44 511,539.29 512,538.17 513,537.08 514,536.02 515,535 516,534.03 517,533.09 518,532.19 519,531.3 520,530.43 521,529.57 522,528.7 523,527.83 524,526.93 525,526 526,525.05 527,524.09 528,523.12 529,522.14 530,521.16 531,520.16 532,519.16 533,518.16 534,517.15 535,516.13 536,515.11 537,514.09 538,513.07 539,512.05 540,511.02 541,510 542,508.99 543,508 544,507.01 545,506.03 546,505.05 547,504.05 548,503.04 549,501.99 550,500.91 551,499.78 552,498.61 553,497.37 554,496.01 555,494.56 556,493.04 557,491.5 558,489.96 559,488.45 560,487 561,485.61 562,484.24 563,482.89 564,481.56 565,480.24 566,478.93 567,477.63 568,476.33 569,475.02 570,473.72 571,472.4 572,471.08 573,469.74 574,468.38 575,467 576,465.58 577,464.11 578,462.61 579,461.09 580,459.59 581,458.1 582,456.67 583,455.29 584,454 585,452.77 586,451.58 587,450.43 588,449.3 589,448.2 590,447.13 591,446.07 592,445.04 593,444.01 594,443 595,442 596,441 597,440.01 598,439.03 599,438.07 600,437.12 601,436.19 602,435.26 603,434.34 604,433.44 605,432.54 606,431.64 607,430.76 608,429.88 609,429 610,428.13 611,427.27 612,426.41 613,425.57 614,424.73 615,423.9 616,423.07 617,422.25 618,421.43 619,420.62 620,419.81 621,419 622,418.18 623,417.35 624,416.5 625,415.65 626,414.81 627,413.98 628,413.18 629,412.4 630,411.65 631,410.95 632,410.3 633,409.71 634,409.18 635,408.69 636,408.24 637,407.82 638,407.42 639,407.03 640,406.65 641,406.26 642,405.86 643,405.43 644,404.98 645,404.48 646,403.93 647,403.33 648,402.65 649,401.86 650,400.97 651,399.99 652,398.92 653,397.77 654,396.57 655,395.31 656,394 657,392.56 658,390.94 659,389.17 660,387.29 661,385.36 662,383.42 663,381.52 664,379.7 665,378 666,376.36 667,374.69 668,373.07 669,371.54 670,370.17 671,369 672,368.01 673,367.13 674,366.32 675,365.58 676,364.87 677,364.18 678,363.49 679,362.77 680,362 681,361.2 682,360.41 683,359.61 684,358.82 685,358.01 686,357.19 687,356.36 688,355.51 689,354.64 690,353.75 691,352.82 692,351.83 693,350.82 694,349.77 695,348.7 696,347.63 697,346.55 698,345.48 699,344.42 700,343.4 701,342.4 702,341.46 703,340.56 704,339.72 705,338.93 706,338.18 707,337.44 708,336.72 709,336 710,335.27 711,334.51 712,333.72 713,332.88 714,331.97 715,331 716,329.94 717,328.78 718,327.55 719,326.24 720,324.88 721,323.46 722,322 723,320.52 724,319.01 725,317.5 726,316.04 727,314.65 728,313.26 729,311.82 730,310.28 731,308.56 732,306.62 733,304.39 734,301.67 735,297.5 736,294.77 737,292.3 738,290.05 739,288.01 740,286.15 741,284.45 742,282.87 743,281.4 744,280 745,278.69 746,277.49 747,276.37 748,275.33 749,274.33 750,273.37 751,272.43 752,271.48 753,270.52 754,269.59 755,268.68 756,267.8 757,266.94 758,266.09 759,265.24 760,264.4 761,263.55 762,262.69 763,261.82 764,260.92 765,260 766,259.05 767,258.09 768,257.11 769,256.12 770,255.11 771,254.1 772,253.09 773,252.07 774,251.05 775,250.03 776,249.01 777,248 778,247 779,246.02 780,245.04 781,244.07 782,243.11 783,242.14 784,241.17 785,240.19 786,239.19 787,238.18 788,237.15 789,236.09 790,235 791,233.86 792,232.66 793,231.43 794,230.2 795,229 796,227.87 797,226.82 798,225.82 799,224.83 800,223.83 801,222.78 802,221.66 803,220.42 804,219.05 805,217.5 806,215.44 807,212.78 808,209.9 809,207.19 810,205 811,203.24 812,201.58 813,200.11 814,198.9 815,198 816,197.37 817,196.86 818,196.45 819,196.1 820,195.77 821,195.43 822,195.04 823,194.58 824,194 825,193.25 826,192.33 827,191.27 828,190.08 829,188.8 830,187.45 831,186.07 832,184.69 833,183.29 834,181.75 835,180.08 836,178.31 837,176.5 838,174.68 839,172.89 840,171.18 841,169.58 842,168.15 843,166.89 844,165.76 845,164.7 846,163.71 847,162.76 848,161.84 849,160.91 850,159.98 851,159 852,157.98 853,156.95 854,155.92 855,154.93 856,154 857,153.17 858,152.4 859,151.66 860,150.87 861,150 862,148.98 863,147.82 864,146.58 865,145.33 866,144.12 867,143 868,142.02 869,141.05 870,140.1 871,139.16 872,138.24 873,137.34 874,136.49 875,135.67 876,134.91 877,134.2 878,133.56 879,132.99 880,132.5 881,132.07 882,131.68 883,131.32 884,131.01 885,130.73 886,130.5 887,130.28 888,130.07 889,129.87 890,129.7 891,129.58 892,129.51 893,129.5 894,129.5 895,129.5 896,129.5 897,129.5 898,129.5 899,129.5 900,129.5 901,129.5 902,129.5 903,129.5 904,129.55 905,129.9 906,130.51 907,131.3 908,132.15 909,132.99 910,133.76 911,134.57 912,135.43 913,136.34 914,137.28 915,138.25 916,139.22 917,140.21 918,141.19 919,142.15 920,143.09 921,144 922,144.9 923,145.82 924,146.74 925,147.68 926,148.61 927,149.53 928,150.44 929,151.33 930,152.2 931,153.03 932,153.83 933,154.58 934,155.28 935,155.92 936,156.52 937,157.09 938,157.62 939,158.13 940,158.61 941,159.06 942,159.5 943,159.9 944,160.26 945,160.59 946,160.9 947,161.22 948,161.56 949,161.93 950,162.36 951,162.86 952,163.44 953,164.11 954,164.84 955,165.63 956,166.47 957,167.34 958,168.23 959,169.15 960,170.12 961,171.14 962,172.22 963,173.34 964,174.52 965,175.74 966,177 967,178.3" stroke="#00008b" stroke-width="2"/>
<polyline points="3,745 4,740.5 5,736.37 6,732.7 7,729.58 8,727.05 9,724.87 10,722.96 11,721.34 12,720 13,718.77 14,717.62 15,716.78 16,716.5 17,716.77 18,717.34 19,718 20,718.75 21,719.69 22,720.7 23,721.7 24,722.61 25,723.52 26,724.55 27,725.81 28,727.43 29,729.35 30,731.48 31,733.75 32,736.07 33,738.65 34,741.49 35,744.47 36,747.46 37,750.32 38,752.92 39,755.25 40,757.47 41,759.6 42,761.62 43,763.53 44,765.34 45,767.04 46,768.65 47,770.18 48,771.66 49,773.08 50,774.45 51,775.79 52,777.09 53,778.39 54,779.67 55,780.95 56,782.22 57,783.45 58,784.64 59,785.77 60,786.83 61,787.8 62,788.69 63,789.54 64,790.34 65,791.1 66,791.83 67,792.54 68,793.23 69,793.91 70,794.59 71,795.26 72,795.94 73,796.6 74,797.25 75,797.88 76,798.51 77,799.12 78,799.74 79,800.34 80,800.95 81,801.56 82,802.19 83,802.94 84,803.73 85,804.47 86,805.09 87,805.49 88,805.6 89,805.6 90,805.6 91,805.6 92,805.6 93,805.6 94,805.6 95,805.6 96,805.6 97,805.6 98,805.6 99,805.6 100,805.6 101,805.6 102,805.6 103,805.6 104,805.6 105,805.6 106,805.53 107,804.85 108,803.61 109,802.04 110,800.34 111,798.7 112,796.74 113,794.56 114,792.49 115,790.79 116,789.25 117,787.79 118,786.42 119,785.11 120,783.87 121,782.67 122,781.51 123,780.44 124,779.48 125,778.6 126,777.73 127,776.85 128,775.88 129,774.79 130,773.52 131,771.82 132,769.78 133,767.63 134,765.62 135,764 136,762.67 137,761.37 138,760.13 139,758.96 140,757.89 141,756.94 142,756.13 143,755.48 144,755 145,754.63 146,754.28 147,753.95 148,753.66 149,753.42 150,753.22 151,753.08 152,753.01 153,753.02 154,753.15 155,753.38 156,753.68 157,754.03 158,754.38 159,754.71 160,755 161,755.3 162,755.56 163,755.6 164,755.59 165,755.57 166,755.55 167,755.52 168,755.48 169,755.43 170,755.37 171,755.31 172,755.24 173,755.17 174,755.09 175,755 176,754.8 177,754.43 178,753.92 179,753.34 180,752.72 181,752.13 182,751.62 183,751.22 184,751 185,750.89 186,750.8 187,750.72 188,750.65 189,750.59 190,750.54 191,750.49 192,750.45 193,750.41 194,750.37 195,750.32 196,750.27 197,750.22 198,750.16 199,750.08 200,750 201,749.91 202,749.81 203,749.71 204,749.61 205,749.49 206,749.36 207,749.21 208,749.04 209,748.86 210,748.65 211,748.41 212,748.14 213,747.8 214,747.09 215,746.07 216,744.85 217,743.52 218,742.21 219,741 220,740 221,739.15 222,738.3 223,737.47 224,736.67 225,735.91 226,735.19 227,734.53 228,733.94 229,733.43 230,733 231,732.62 232,732.24 233,731.89 234,731.57 235,731.31 236,731.12 237,731.01 238,731.01 239,731.11 240,731.29 241,731.54 242,731.82 243,732.13 244,732.45 245,732.75 246,733.07 247,733.46 248,733.89 249,734.34 250,734.8 251,735.25 252,735.67 253,736.05 254,736.37 255,736.6 256,736.78 257,736.96 258,737.11 259,737.25 260,737.37 261,737.45 262,737.5 263,737.53 264,737.56 265,737.58 266,737.59 267,737.6 268,737.55 269,737.24 270,736.75 271,736.22 272,735.8 273,735.47 274,735.12 275,734.78 276,734.47 277,734.23 278,734.06 279,734 280,734.02 281,734.06 282,734.12 283,734.19 284,734.27 285,734.35 286,734.42 287,734.48 288,734.52 289,734.55 290,734.59 291,734.62 292,734.65 293,734.68 294,734.71 295,734.74 296,734.76 297,734.78 298,734.79 299,734.8 300,734.8 301,734.77 302,734.68 303,734.54 304,734.37 305,734.17 306,733.94 307,733.7 308,733.46 309,733.22 310,733 311,732.78 312,732.55 313,732.32 314,732.07 315,731.81 316,731.55 317,731.28 318,731.01 319,730.73 320,730.44 321,730.16 322,729.87 323,729.58 324,729.29 325,729 326,728.71 327,728.43 328,728.15 329,727.87 330,727.58 331,727.3 332,727.02 333,726.74 334,726.46 335,726.17 336,725.88 337,725.58 338,725.28 339,724.97 340,724.66 341,724.34 342,724.01 343,723.67 344,723.32 345,722.96 346,722.6 347,722.22 348,721.82 349,721.42 350,721 351,720.55 352,720.07 353,719.55 354,718.99 355,718.42 356,717.82 357,717.21 358,716.58 359,715.95 360,715.32 361,714.68 362,714.06 363,713.45 364,712.85 365,712.26 366,711.68 367,711.1 368,710.51 369,709.9 370,709.27 371,708.62 372,707.93 373,707.2 374,706.43 375,705.6 376,704.68 377,703.64 378,702.5 379,701.27 380,699.98 381,698.65 382,697.28 383,695.9 384,694.52 385,693.17 386,691.86 387,690.6 388,689.42 389,688.33 390,687.3 391,686.32 392,685.37 393,684.41 394,683.44 395,682.43 396,681.35 397,680.19 398,678.93 399,677.54 400,676 401,674.03 402,671.52 403,668.72 404,665.87 405,663.21 406,661 407,659.17 408,657.48 409,655.91 410,654.44 411,653.03 412,651.67 413,650.36 414,649.2 415,648.13 416,647.01 417,645.73 418,644.17 419,642.23 420,640 421,637.57 422,634.92 423,632.09 424,629.09 425,625.93 426,622.64 427,619.24 428,615.69 429,611.73 430,607.44 431,602.97 432,598.46 433,594.03 434,589.83 435,586 436,582.57 437,579.4 438,576.34 439,573.26 440,570 441,566.55 442,563 443,559.38 444,555.7 445,552 446,548.06 447,544.18 448,541.03 449,538.43 450,536.1 451,533.82 452,531.36 453,528.47 454,525.09 455,522 456,519.5 457,517.27 458,515.18 459,513.13 460,511 461,508.73 462,506.4 463,504.1 464,501.93 465,500 466,498.26 467,496.62 468,495.06 469,493.58 470,492.18 471,490.86 472,489.6 473,488.4 474,487.2 475,486.01 476,484.88 477,483.82 478,482.89 479,482.1 480,481.5 481,481 482,480.52 483,480.08 484,479.69 485,479.37 486,479.14 487,479.02 488,479.02 489,479.15 490,479.4 491,479.73 492,480.11 493,480.52 494,480.93 495,481.32 496,481.66 497,481.91 498,482.07 499,482.22 500,482.37 501,482.5 502,482.63 503,482.74 504,482.84 505,482.91 506,482.97 507,483 508,482.99 509,482.93 510,482.81 511,482.65 512,482.45 513,482.22 514,481.96 515,481.69 516,481.41 517,481.13 518,480.86 519,480.6 520,480.35 521,480.1 522,479.85 523,479.59 524,479.32 525,479.03 526,478.74 527,478.43 528,478.1 529,477.76 530,477.39 531,477 532,476.57 533,476.1 534,475.58 535,475.02 536,474.43 537,473.81 538,473.16 539,472.49 540,471.81 541,471.11 542,470.41 543,469.7 544,469 545,468.32 546,467.67 547,467.02 548,466.35 549,465.66 550,464.91 551,464.09 552,463.18 553,462.16 554,461 555,459.38 556,457.25 557,455.02 558,453.02 559,451.05 560,449.06 561,447.09 562,445.16 563,443.32 564,441.59 565,440 566,438.51 567,437.07 568,435.67 569,434.33 570,433.04 571,431.81 572,430.64 573,429.53 574,428.48 575,427.5 576,426.57 577,425.69 578,424.84 579,424.03 580,423.27 581,422.54 582,421.85 583,421.21 584,420.6 585,420.03 586,419.49 587,418.97 588,418.48 589,418.01 590,417.55 591,417.11 592,416.68 593,416.26 594,415.84 595,415.42 596,415 597,414.57 598,414.14 599,413.7 600,413.26 601,412.82 602,412.4 603,411.98 604,411.59 605,411.21 606,410.86 607,410.54 608,410.25 609,410 610,409.77 611,409.53 612,409.3 613,409.07 614,408.85 615,408.65 616,408.47 617,408.31 618,408.18 619,408.08 620,408.02 621,408 622,408 623,408 624,408 625,408 626,408 627,408 628,408 629,408 630,408 631,408 632,408 633,407.99 634,407.92 635,407.78 636,407.58 637,407.32 638,407.02 639,406.67 640,406.28 641,405.87 642,405.42 643,404.96 644,404.48 645,404 646,403.44 647,402.76 648,401.96 649,401.07 650,400.1 651,399.07 652,398 653,396.84 654,395.54 655,394.13 656,392.6 657,390.98 658,389.28 659,387.5 660,385.46 661,383.07 662,380.55 663,378.06 664,375.82 665,374 666,372.41 667,370.82 668,369.35 669,368.13 670,367.31 671,367 672,367 673,367 674,367 675,367 676,367 677,367 678,367 679,367 680,367 681,366.85 682,366.47 683,365.94 684,365.35 685,364.78 686,364.31 687,364.04 688,364 689,364 690,364 691,363.67 692,362.8 693,361.54 694,360.07 695,358.55 696,357.14 697,356.01 698,355.25 699,354.53 700,353.87 701,353.34 702,353.04 703,353.02 704,353.15 705,353.35 706,353.59 707,353.81 708,353.96 709,353.99 710,353.69 711,353.05 712,352.16 713,351.09 714,349.93 715,348.75 716,347.41 717,345.76 718,343.87 719,341.81 720,339.67 721,337.5 722,335.22 723,332.75 724,330.17 725,327.56 726,325 727,322.48 728,319.95 729,317.43 730,314.93 731,312.5 732,310.19 733,307.98 734,305.78 735,303.49 736,301 737,298.01 738,294.64 739,291.45 740,289 741,287.26 742,285.77 743,284.47 744,283.29 745,282.15 746,281 747,279.83 748,278.71 749,277.61 750,276.54 751,275.5 752,274.48 753,273.47 754,272.47 755,271.48 756,270.5 757,269.51 758,268.51 759,267.5 760,266.5 761,265.51 762,264.51 763,263.47 764,262.34 765,261.13 766,259.88 767,258.6 768,257.31 769,256.03 770,254.78 771,253.57 772,252.44 773,251.4 774,250.46 775,249.66 776,249 777,248.47 778,248.03 779,247.65 780,247.32 781,247 782,246.69 783,246.35 784,245.97 785,245.53 786,245 787,244.34 788,243.53 789,242.6 790,241.58 791,240.48 792,239.35 793,238.21 794,237.08 795,236 796,235.01 797,234.11 798,233.26 799,232.38 800,231.45 801,230.39 802,229.17 803,227.72 804,226 805,222.89 806,218.39 807,214.08 808,211.24 809,209.03 810,207.5 811,206.43 812,205.48 813,204.71 814,204.19 815,204 816,204.47 817,205.64 818,207.18 819,208.74 820,210 821,211.06 822,212.18 823,213.24 824,214.14 825,214.77 826,215 827,214.81 828,214.28 829,213.45 830,212.38 831,211.12 832,209.73 833,208.05 834,205.13 835,201.38 836,197.43 837,193.9 838,191.25 839,188.78 840,186.49 841,184.52 842,183.02 843,182.09 844,181.4 845,180.85 846,180.38 847,179.95 848,179.51 849,179 850,178.48 851,177.99 852,177.51 853,177 854,176.43 855,175.78 856,175 857,173.68 858,171.75 859,169.73 860,168.14 861,167.5 862,167.6 863,167.84 864,168.16 865,168.51 866,168.8 867,168.97 868,168.96 869,168.68 870,168.26 871,167.82 872,167.5 873,167.28 874,167.05 875,166.84 876,166.65 877,166.5 878,166.38 879,166.31 880,166.73 881,170.27 882,173.98 883,175.87 884,177.46 885,178.83 886,180.04 887,181.17 888,182.27 889,183.41 890,184.66 891,185.95 892,187.23 893,188.5 894,189.76 895,191 896,192.13 897,193.12 898,194.05 899,195.02 900,196.12 901,197.43 902,199.05 903,201.33 904,205.47 905,210.46 906,215 907,218.78 908,222.39 909,225.87 910,229.25 911,232.57 912,235.86 913,239.13 914,242.35 915,245.52 916,248.64 917,251.72 918,254.79 919,257.85 920,260.92 921,264 922,267.16 923,270.41 924,273.65 925,276.84 926,279.87 927,282.69 928,285.27 929,287.81 930,290.3 931,292.69 932,294.92 933,296.91 934,298.63 935,300 936,301.09 937,302.03 938,302.85 939,303.6 940,304.3 941,305 942,305.65 943,306.23 944,306.76 945,307.31 946,307.91 947,308.6 948,309.45 949,310.55 950,311.84 951,313.25 952,314.71 953,316.15 954,317.5 955,318.75 956,319.97 957,321.18 958,322.41 959,323.67 960,325 961,326.31 962,327.6 963,328.98 964,330.57 965,332.5 966,335.15 967,338.6 968,342.5" stroke="#00008b" stroke-width="3"/>
</g>
<g shape-rendering="crispEdges" fill="none" stroke-width="1">
<line x1="3" y1="213.5" x2="1229" y2="213.5" stroke="#0000ff" stroke-dasharray="18 6"/>
</g>
<g shape-rendering="crispEdges" fill="none" stroke-width="1">
<line x1="807" y1="45.5" x2="967" y2="45.5" stroke="#adff2f"/>
<line x1="898.6" y1="145.5" x2="1227" y2="145.5" stroke="#ff0000" stroke-dasharray="9 3 3 3 3 3"/>
<line x1="923" y1="496.5" x2="1227" y2="496.5" stroke="#ff0000" stroke-dasharray="9 3 3 3 3 3"/>
<line x1="803" y1="211.5" x2="968" y2="211.5" stroke="#ff4500"/>
<line x1="899" y1="213.5" x2="967" y2="213.5" stroke="#ffffff" stroke-dasharray="9 3 3 3 3 3"/>
<line x1="951" y1="305.5" x2="999" y2="305.5" stroke="#dc143c"/>
<line x1="955" y1="411.5" x2="1003" y2="411.5" stroke="#8a2be2"/>
<line x1="907.5" y1="473" x2="907.5" y2="486" stroke="#000"/>
</g>
<g>
<polygon points="857.05,174 860.45,174 860.45,166.4 864.55,170 864.55,166 858.75,160 852.95,166 852.95,170 857.05,166.4" fill="#0000ff"/>
<polygon points="793.05,243 796.45,243 796.45,235.4 800.55,239 800.55,235 794.75,229 788.95,235 788.95,239 793.05,235.4" fill="#0000ff"/>
<polygon points="765.3,261 768.7,261 768.7,253.4 772.8,257 772.8,253 767,247 761.2,253 761.2,257 765.3,253.4" fill="#0000ff"/>
<polygon points="544.8,474 548.2,474 548.2,466.4 552.3,470 552.3,466 546.5,460 540.7,466 540.7,470 544.8,466.4" fill="#0000ff"/>
<polygon points="25.9,724 29.1,724 29.1,731.6 33.2,728 33.2,732 27.5,738 21.8,732 21.8,728 25.9,731.6" fill="#ff0000"/>
<polygon points="249.9,702 253.1,702 253.1,709.6 257.2,706 257.2,710 251.5,716 245.8,710 245.8,706 249.9,709.6" fill="#ff0000"/>
<polygon points="325.4,708 328.6,708 328.6,715.6 332.7,712 332.7,716 327,722 321.3,716 321.3,712 325.4,715.6" fill="#ff0000"/>
<polygon points="490.15,448 493.35,448 493.35,455.6 497.45,452 497.45,456 491.75,462 486.05,456 486.05,452 490.15,455.6" fill="#ff0000"/>
<polygon points="605.9,360 609.1,360 609.1,367.6 613.2,364 613.2,368 607.5,374 601.8,368 601.8,364 605.9,367.6" fill="#ff0000"/>
<polygon points="590.4,370.5 593.6,370.5 593.6,378.1 597.7,374.5 597.7,378.5 592,384.5 586.3,378.5 586.3,374.5 590.4,378.1" fill="#ff0000"/>
<polygon points="629.9,382 633.1,382 633.1,389.6 637.2,386 637.2,390 631.5,396 625.8,390 625.8,386 629.9,389.6" fill="#ff0000"/>
<polygon points="814,77 817.2,77 817.2,84.6 821.3,81 821.3,85 815.6,91 809.9,85 809.9,81 814,84.6" fill="#ff0000"/>
<polygon points="894,195 897.2,195 897.2,202.6 901.3,199 901.3,203 895.6,209 889.9,203 889.9,199 894,202.6" fill="#ff0000"/>
<polygon points="949.9,270 953.1,270 953.1,277.6 957.2,274 957.2,278 951.5,284 945.8,278 945.8,274 949.9,277.6" fill="#ff0000"/>
<polygon points="965.9,351.5 969.1,351.5 969.1,359.1 973.2,355.5 973.2,359.5 967.5,365.5 961.8,359.5 961.8,355.5 965.9,359.1" fill="#ff0000"/>
<path d="M87.4 785.9L95.8 794.1M96 786.1L86.8 794.1" stroke="#ffa500" stroke-width="3.4" stroke-linecap="round" fill="none"/>
<path d="M270.4 717.9L278.8 726.1M279 718.1L269.8 726.1" stroke="#ffa500" stroke-width="3.4" stroke-linecap="round" fill="none"/>
<path d="M326.5 714.65L334.9 722.85M335.1 714.85L325.9 722.85" stroke="#ffa500" stroke-width="3.4" stroke-linecap="round" fill="none"/>
<path d="M510.6 463.9L519 472.1M519.2 464.1L510 472.1" stroke="#ffa500" stroke-width="3.4" stroke-linecap="round" fill="none"/>
<path d="M598.4 394.9L606.8 403.1M607 395.1L597.8 403.1" stroke="#ffa500" stroke-width="3.4" stroke-linecap="round" fill="none"/>
<path d="M618.9 394.9L627.3 403.1M627.5 395.1L618.3 403.1" stroke="#ffa500" stroke-width="3.4" stroke-linecap="round" fill="none"/>
<path d="M634.65 399.9L643.05 408.1M643.25 400.1L634.05 408.1" stroke="#ffa500" stroke-width="3.4" stroke-linecap="round" fill="none"/>
<path d="M814.65 157.9L823.05 166.1M823.25 158.1L814.05 166.1" stroke="#ffa500" stroke-width="3.4" stroke-linecap="round" fill="none"/>
<path d="M942.9 327.9L951.3 336.1M951.5 328.1L942.3 336.1" stroke="#ffa500" stroke-width="3.4" stroke-linecap="round" fill="none"/>
<path d="M949.9 351.4L958.3 359.6M958.5 351.6L949.3 359.6" stroke="#ffa500" stroke-width="3.4" stroke-linecap="round" fill="none"/>
<polygon points="11,638.5 13.2,645.27 20.32,645.27 14.57,649.46 16.76,656.23 11,652.05 5.24,656.23 7.43,649.46 1.68,645.27 8.8,645.27" fill="#ffff00"/>
<polygon points="147,728.5 149.2,735.27 156.32,735.27 150.57,739.46 152.76,746.23 147,742.05 141.24,746.23 143.43,739.46 137.68,735.27 144.8,735.27" fill="#ffff00"/>
<polygon points="235,711.6 237.2,718.37 244.32,718.37 238.57,722.56 240.76,729.33 235,725.15 229.24,729.33 231.43,722.56 225.68,718.37 232.8,718.37" fill="#ffff00"/>
<polygon points="322.5,717 324.7,723.77 331.82,723.77 326.07,727.96 328.26,734.73 322.5,730.55 316.74,734.73 318.93,727.96 313.18,723.77 320.3,723.77" fill="#ffff00"/>
<polygon points="355,707 357.2,713.77 364.32,713.77 358.57,717.96 360.76,724.73 355,720.55 349.24,724.73 351.43,717.96 345.68,713.77 352.8,713.77" fill="#ffff00"/>
<polygon points="415,577 417.2,583.77 424.32,583.77 418.57,587.96 420.76,594.73 415,590.55 409.24,594.73 411.43,587.96 405.68,583.77 412.8,583.77" fill="#ffff00"/>
<polygon points="463,408 465.2,414.77 472.32,414.77 466.57,418.96 468.76,425.73 463,421.55 457.24,425.73 459.43,418.96 453.68,414.77 460.8,414.77" fill="#ffff00"/>
<polygon points="479,413.5 481.2,420.27 488.32,420.27 482.57,424.46 484.76,431.23 479,427.05 473.24,431.23 475.43,424.46 469.68,420.27 476.8,420.27" fill="#ffff00"/>
<polygon points="543,449.75 545.2,456.52 552.32,456.52 546.57,460.71 548.76,467.48 543,463.3 537.24,467.48 539.43,460.71 533.68,456.52 540.8,456.52" fill="#ffff00"/>
<polygon points="587,387 589.2,393.77 596.32,393.77 590.57,397.96 592.76,404.73 587,400.55 581.24,404.73 583.43,397.96 577.68,393.77 584.8,393.77" fill="#ffff00"/>
<polygon points="647.5,388.5 649.7,395.27 656.82,395.27 651.07,399.46 653.26,406.23 647.5,402.05 641.74,406.23 643.93,399.46 638.18,395.27 645.3,395.27" fill="#ffff00"/>
<polygon points="667,291 669.2,297.77 676.32,297.77 670.57,301.96 672.76,308.73 667,304.55 661.24,308.73 663.43,301.96 657.68,297.77 664.8,297.77" fill="#ffff00"/>
<polygon points="675,331 677.2,337.77 684.32,337.77 678.57,341.96 680.76,348.73 675,344.55 669.24,348.73 671.43,341.96 665.68,337.77 672.8,337.77" fill="#ffff00"/>
<polygon points="722.5,320 724.7,326.77 731.82,326.77 726.07,330.96 728.26,337.73 722.5,333.55 716.74,337.73 718.93,330.96 713.18,326.77 720.3,326.77" fill="#ffff00"/>
<polygon points="750.6,209 752.8,215.77 759.92,215.77 754.17,219.96 756.36,226.73 750.6,222.55 744.84,226.73 747.03,219.96 741.28,215.77 748.4,215.77" fill="#ffff00"/>
<polygon points="763,207 765.2,213.77 772.32,213.77 766.57,217.96 768.76,224.73 763,220.55 757.24,224.73 759.43,217.96 753.68,213.77 760.8,213.77" fill="#ffff00"/>
<polygon points="772,215 774.2,221.77 781.32,221.77 775.57,225.96 777.76,232.73 772,228.55 766.24,232.73 768.43,225.96 762.68,221.77 769.8,221.77" fill="#ffff00"/>
<polygon points="758.75,229.5 760.95,236.27 768.07,236.27 762.32,240.46 764.51,247.23 758.75,243.05 752.99,247.23 755.18,240.46 749.43,236.27 756.55,236.27" fill="#ffff00"/>
<polygon points="775,186 777.2,192.77 784.32,192.77 778.57,196.96 780.76,203.73 775,199.55 769.24,203.73 771.43,196.96 765.68,192.77 772.8,192.77" fill="#ffff00"/>
<polygon points="806,177 808.2,183.77 815.32,183.77 809.57,187.96 811.76,194.73 806,190.55 800.24,194.73 802.43,187.96 796.68,183.77 803.8,183.77" fill="#ffff00"/>
<polygon points="802.5,187 804.7,193.77 811.82,193.77 806.07,197.96 808.26,204.73 802.5,200.55 796.74,204.73 798.93,197.96 793.18,193.77 800.3,193.77" fill="#ffff00"/>
<polygon points="850.6,141.5 852.8,148.27 859.92,148.27 854.17,152.46 856.36,159.23 850.6,155.05 844.84,159.23 847.03,152.46 841.28,148.27 848.4,148.27" fill="#ffff00"/>
<polygon points="863,126 865.2,132.77 872.32,132.77 866.57,136.96 868.76,143.73 863,139.55 857.24,143.73 859.43,136.96 853.68,132.77 860.8,132.77" fill="#ffff00"/>
</g>
<g shape-rendering="crispEdges" stroke="#000" stroke-width="1" fill="none">
<path d="M2.5 2V900M2 2.5H1230M1229.5 2V900M2 899.5H1230"/>
<path d="M1230 5.5H1232M1230 38.5H1232M1230 71.5H1232M1230 104.5H1232M1230 137.5H1232M1230 170.5H1232M1230 203.5H1232M1230 236.5H1232M1230 269.5H1232M1230 302.5H1232M1230 335.5H1232M1230 368.5H1232M1230 401.5H1232M1230 434.5H1232M1230 467.5H1232M1230 500.5H1232M1230 533.5H1232M1230 566.5H1232M1230 599.5H1232M1230 632.5H1232M1230 665.5H1232M1230 698.5H1232M1230 731.5H1232M1230 764.5H1232M1230 797.5H1232M1230 830.5H1232M1230 863.5H1232M1230 896.5H1232M3.5 900V903M67.5 900V903M131.5 900V903M195.5 900V903M259.5 900V903M323.5 900V903M387.5 900V903M451.5 900V903M515.5 900V903M579.5 900V903M643.5 900V903M707.5 900V903M771.5 900V903M835.5 900V903M899.5 900V903M963.5 900V903"/>
</g>
<g class="ax">
<text x="1235" y="8.7" textLength="38">3326.440</text>
<text x="1235" y="41.7" textLength="38">3310.765</text>
<text x="1235" y="74.7" textLength="38">3295.090</text>
<text x="1235" y="107.7" textLength="38">3278.940</text>
<text x="1235" y="140.7" textLength="38">3263.265</text>
<text x="1235" y="173.7" textLength="38">3247.590</text>
<text x="1235" y="206.7" textLength="38">3231.915</text>
<text x="1235" y="239.7" textLength="38">3215.765</text>
<text x="1235" y="272.7" textLength="38">3200.090</text>
<text x="1235" y="305.7" textLength="38">3184.415</text>
<text x="1235" y="338.7" textLength="38">3168.740</text>
<text x="1235" y="371.7" textLength="38">3152.590</text>
<text x="1235" y="404.7" textLength="38">3136.915</text>
<text x="1235" y="437.7" textLength="38">3121.240</text>
<text x="1235" y="470.7" textLength="38">3105.565</text>
<text x="1235" y="503.7" textLength="38">3089.415</text>
<text x="1235" y="536.7" textLength="38">3073.740</text>
<text x="1235" y="569.7" textLength="38">3058.065</text>
<text x="1235" y="602.7" textLength="38">3042.390</text>
<text x="1235" y="635.7" textLength="38">3026.240</text>
<text x="1235" y="668.7" textLength="38">3010.565</text>
<text x="1235" y="701.7" textLength="38">2994.890</text>
<text x="1235" y="734.7" textLength="38">2979.215</text>
<text x="1235" y="767.7" textLength="38">2963.065</text>
<text x="1235" y="800.7" textLength="38">2947.390</text>
<text x="1235" y="833.7" textLength="38">2931.715</text>
<text x="1235" y="866.7" textLength="38">2916.040</text>
<text x="1235" y="899.7" textLength="38">2900.365</text>
</g>
<g shape-rendering="crispEdges">
<rect x="1231" y="207" width="46" height="11" fill="#0000ff"/>
<rect x="1231" y="439" width="46" height="11" fill="#000000"/>
</g>
<g class="ax"><text x="1235" y="216" textLength="38" style="fill:#fff;stroke:#fff">3226.785</text><text x="1235" y="448" textLength="38" style="fill:#fff;stroke:#fff">3116.570</text></g>
<g class="ax">
<text x="2.4" y="911.6" textLength="51.6">29 Dec 2025</text>
<text x="66.4" y="911.6" textLength="54.4">29 Dec 23:00</text>
<text x="130.4" y="911.6" textLength="54.4">30 Dec 15:00</text>
<text x="194.4" y="911.6" textLength="54.4">31 Dec 07:00</text>
<text x="258.4" y="911.6" textLength="54.4">31 Dec 23:00</text>
<text x="322.4" y="911.6" textLength="47.6">1 Jan 15:00</text>
<text x="386.4" y="911.6" textLength="47.6">2 Jan 07:00</text>
<text x="450.4" y="911.6" textLength="47.6">2 Jan 23:00</text>
<text x="514.4" y="911.6" textLength="47.6">3 Jan 15:00</text>
<text x="578.4" y="911.6" textLength="47.6">4 Jan 07:00</text>
<text x="642.4" y="911.6" textLength="47.6">4 Jan 23:00</text>
<text x="706.4" y="911.6" textLength="47.6">5 Jan 15:00</text>
<text x="770.4" y="911.6" textLength="47.6">6 Jan 07:00</text>
<text x="834.4" y="911.6" textLength="47.6">6 Jan 23:00</text>
<text x="898.4" y="911.6" textLength="47.6">7 Jan 15:00</text>
<text x="962.4" y="911.6" textLength="47.6">8 Jan 07:00</text>
</g>
</svg></body></html>
